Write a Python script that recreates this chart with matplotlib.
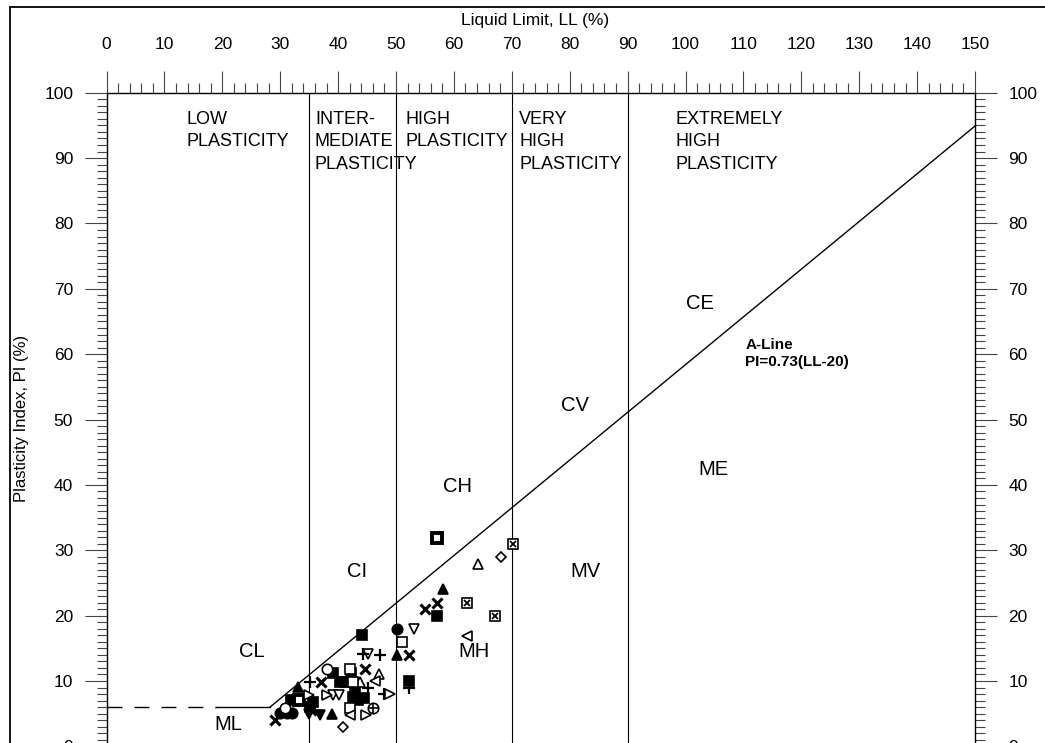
import matplotlib
matplotlib.use("Agg")
import matplotlib.pyplot as plt
from matplotlib.ticker import MultipleLocator
from matplotlib.patches import Rectangle

plt.rcParams['font.family'] = ['Liberation Sans', 'DejaVu Sans']

# ---------------- data (LL %, PI %) ----------------
sq_filled_ll = [44.1, 57.1, 52.2, 39.1, 40.3, 41.2, 42.3, 42.6, 43.5, 44.4, 35.1, 35.7, 31.9, 43.0]
sq_filled_pi = [17.0, 19.9, 10.0, 11.2, 9.9, 9.9, 11.2, 7.6, 7.1, 7.4, 6.1, 6.8, 7.1, 8.5]

sq_dot_ll = [57.1, 33.2]
sq_dot_pi = [31.9, 7.1]

sq_x_ll = [70.2, 62.2, 67.1]
sq_x_pi = [31.0, 21.9, 19.9]

diamond_ll = [68.1, 40.9]
diamond_pi = [28.9, 2.9]

tri_up_open_ll = [64.2, 47.1, 43.8]
tri_up_open_pi = [27.9, 11.0, 9.9]

tri_up_filled_ll = [58.2, 50.1, 33.1, 39.0]
tri_up_filled_pi = [24.1, 14.0, 9.1, 4.9]

cross_x_ll = [57.1, 55.0, 52.3, 29.1, 37.0, 44.6, 35.4]
cross_x_pi = [21.9, 21.0, 14.0, 4.0, 9.9, 11.9, 5.6]

circle_filled_ll = [50.1, 30.0, 31.1, 32.0]
circle_filled_pi = [18.0, 5.1, 5.1, 5.1]

tri_down_open_ll = [53.1, 39.2, 40.2, 45.2]
tri_down_open_pi = [18.0, 7.9, 7.9, 14.1]

tri_down_filled_ll = [36.9, 35.0]
tri_down_filled_pi = [4.8, 5.0]

sq_open_ll = [51.1, 42.1, 42.6, 42.1]
sq_open_pi = [15.9, 11.9, 9.9, 5.8]

plus_ll = [47.2, 35.2, 52.2, 47.9, 45.2, 44.3]
plus_pi = [14.0, 9.9, 8.9, 8.0, 8.9, 14.1]

tri_left_ll = [62.3, 46.4, 42.1]
tri_left_pi = [16.9, 10.0, 4.8]

tri_right_ll = [48.9, 38.0, 34.9, 44.9]
tri_right_pi = [8.0, 7.9, 7.9, 4.8]

circle_open_ll = [38.1, 30.8]
circle_open_pi = [11.9, 5.8]

circle_plus_ll = [46.1]
circle_plus_pi = [5.8]

# zone boundaries and labels
zone_bounds = [35, 50, 70, 90]
zone_titles = ["LOW\nPLASTICITY", "INTER-\nMEDIATE\nPLASTICITY", "HIGH\nPLASTICITY",
               "VERY\nHIGH\nPLASTICITY", "EXTREMELY\nHIGH\nPLASTICITY"]
zone_title_ll = [13.9, 36.0, 51.6, 71.3, 98.3]

soil_labels = ["CE", "CV", "CH", "CI", "CL", "ML", "MH", "MV", "ME"]
soil_ll = [102.5, 80.9, 60.7, 43.3, 25.1, 21.0, 63.5, 82.8, 104.9]
soil_pi = [67.8, 52.2, 39.7, 26.7, 14.5, 3.3, 14.5, 26.7, 42.3]

a_line_slope = 0.73
a_line_offset = 20
a_line_floor = 6
dash_end_ll = 19

# ---------------- figure ----------------
W, H = 1045, 743
fig = plt.figure(figsize=(W / 100, H / 100), dpi=100)
x0, x1 = 106.5, 975.0
ytop, ybot = 92.7, 746.4
ax = fig.add_axes([x0 / W, 1 - ybot / H, (x1 - x0) / W, (ybot - ytop) / H])
ax.set_xlim(0, 150)
ax.set_ylim(0, 100)

# outer frame
fig.patches.append(Rectangle((10 / W, -0.05), 1.2, (1 - 6.7 / H) + 0.05,
                             transform=fig.transFigure, fill=False, lw=1.3, ec='black'))

# ticks
ax.xaxis.set_ticks_position('top')
ax.set_xticks(range(0, 151, 10))
ax.xaxis.set_minor_locator(MultipleLocator(2))
ax.set_yticks(range(0, 101, 10))
ax.yaxis.set_minor_locator(MultipleLocator(1))
tc = '#444444'
ax.tick_params(axis='x', which='major', direction='out', length=16, width=0.8, color=tc,
               pad=13.5, labelsize=12.5, top=True, bottom=False, labeltop=True, labelbottom=False)
ax.tick_params(axis='x', which='minor', direction='out', length=7.5, width=0.8, color=tc,
               top=True, bottom=False)
ax.tick_params(axis='y', which='major', direction='out', length=15.5, width=0.8, color=tc,
               pad=8.5, labelsize=12.5, left=True, right=True, labelleft=True, labelright=True)
ax.tick_params(axis='y', which='minor', direction='out', length=7.5, width=0.8, color=tc,
               left=True, right=True)
for s in ax.spines.values():
    s.set_linewidth(1.0)

fig.text(534.7 / W, 1 - 21 / H, "Liquid Limit, LL (%)", ha='center', va='center', fontsize=12.5)
fig.text(22 / W, 1 - 418 / H, "Plasticity Index, PI (%)", ha='center', va='center',
         rotation=90, fontsize=12)

# zone boundaries
for b in zone_bounds:
    ax.plot([b, b], [0, 100], color='black', lw=0.8)

# A-line
ll_knee = a_line_offset + a_line_floor / a_line_slope
ax.plot([0, dash_end_ll], [a_line_floor, a_line_floor], color='black', lw=1.0,
        dashes=(10.8, 8.6))
ax.plot([dash_end_ll, ll_knee], [a_line_floor, a_line_floor], color='black', lw=1.0)
ax.plot([ll_knee, 150], [a_line_floor, a_line_slope * (150 - a_line_offset)], color='black', lw=1.0)

# zone titles
for t, l in zip(zone_titles, zone_title_ll):
    ax.text(l, 97.2, t, ha='left', va='top', fontsize=13, linespacing=1.42)

for t, l, p in zip(soil_labels, soil_ll, soil_pi):
    ax.text(l, p, t, ha='center', va='center', fontsize=14.5)

ax.text(110.3, 60.1, "A-Line\nPI=0.73(LL-20)", ha='left', va='center', fontsize=11,
        fontweight='bold', linespacing=1.2)

# markers
ms = 7
mew = 1.2
def pts(xs, ys, marker, filled, size=ms, ew=mew, **kw):
    ax.plot(xs, ys, ls='none', marker=marker, markersize=size,
            mfc='black' if filled else 'white', mec='black', mew=ew, zorder=5, clip_on=False, **kw)

pts(sq_filled_ll, sq_filled_pi, 's', True)
pts(sq_dot_ll, sq_dot_pi, 's', False, ew=2.8)
pts(sq_x_ll, sq_x_pi, 's', False, size=7.5)
ax.plot(sq_x_ll, sq_x_pi, ls='none', marker='x', markersize=5, mec='black', mew=1.3, zorder=6)
pts(diamond_ll, diamond_pi, 'D', False, size=5.5)
pts(tri_up_open_ll, tri_up_open_pi, '^', False)
pts(tri_up_filled_ll, tri_up_filled_pi, '^', True)
ax.plot(cross_x_ll, cross_x_pi, ls='none', marker='x', markersize=7, mec='black', mew=2.2, zorder=5)
pts(circle_filled_ll, circle_filled_pi, 'o', True, size=7.5)
pts(tri_down_open_ll, tri_down_open_pi, 'v', False)
pts(tri_down_filled_ll, tri_down_filled_pi, 'v', True)
pts(sq_open_ll, sq_open_pi, 's', False)
ax.plot(plus_ll, plus_pi, ls='none', marker='+', markersize=8, mec='black', mew=1.6, zorder=5)
pts(tri_left_ll, tri_left_pi, '<', False)
pts(tri_right_ll, tri_right_pi, '>', False)
pts(circle_open_ll, circle_open_pi, 'o', False, size=7.5)
pts(circle_plus_ll, circle_plus_pi, 'o', False, size=7.5)
ax.plot(circle_plus_ll, circle_plus_pi, ls='none', marker='+', markersize=7.5, mec='black', mew=1.2, zorder=6)

fig.savefig('out.png', dpi=100)
